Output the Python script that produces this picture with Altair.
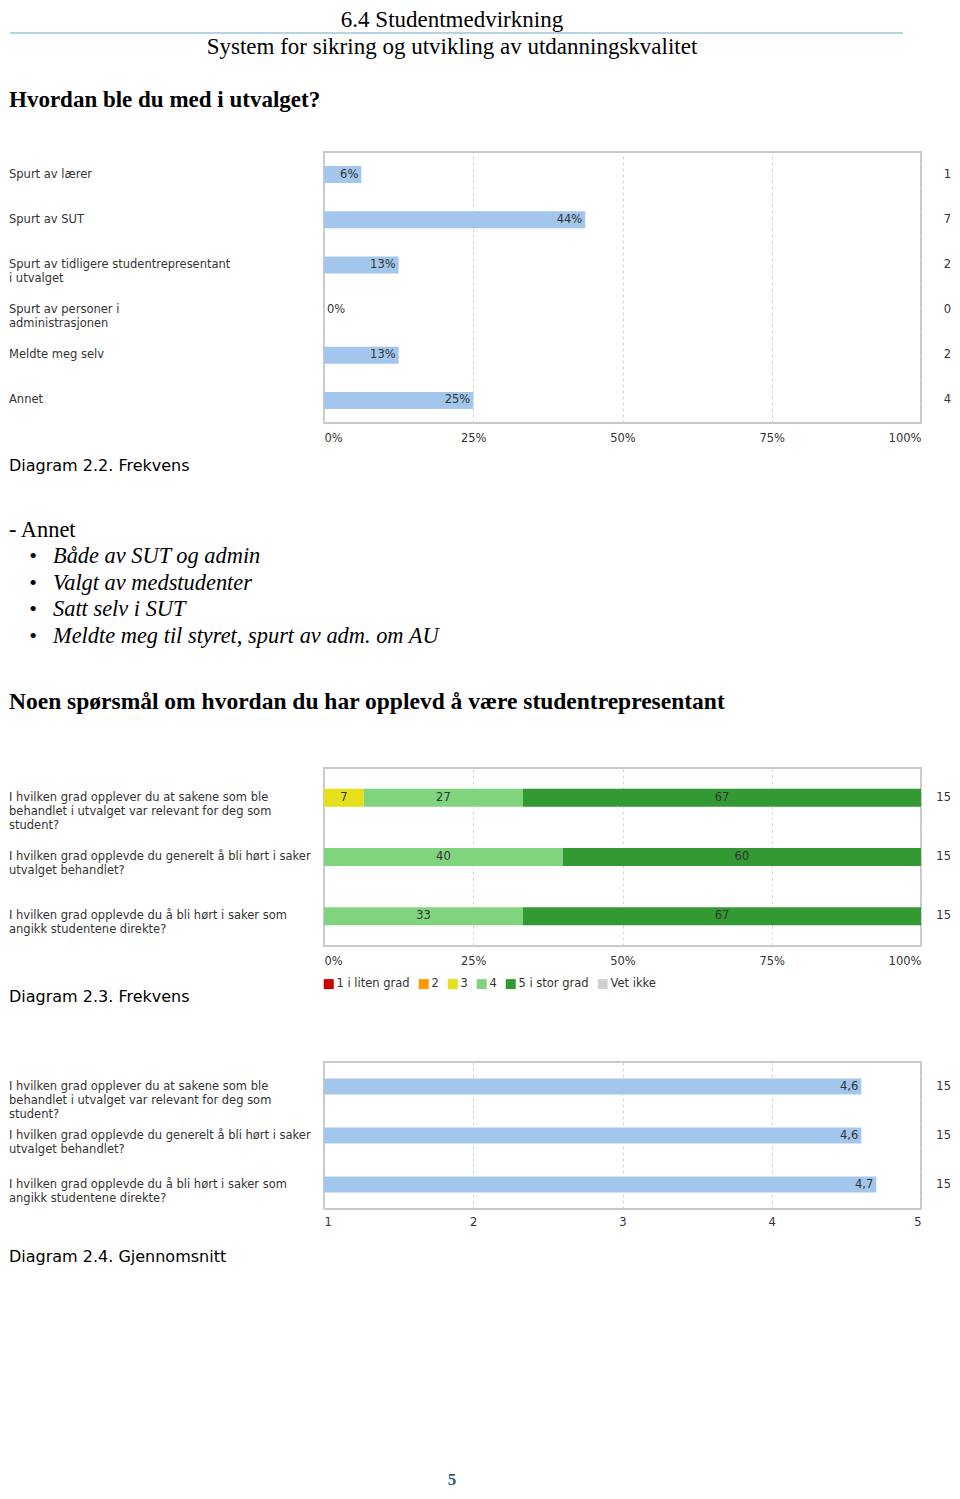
import altair as alt
import pandas as pd

SANS = "DejaVu Sans"
SERIF = "Liberation Serif"
W = 597
LEFT = -315
RIGHT_N = 627
BLUE = "#a3c7ec"
TXT = "#333333"

# ---- Chart 1 data: Hvordan ble du med i utvalget?
c1_cats = [
    "Spurt av lærer",
    "Spurt av SUT",
    "Spurt av tidligere studentrepresentant\ni utvalget",
    "Spurt av personer i\nadministrasjonen",
    "Meldte meg selv",
    "Annet",
]
c1_counts = [1, 7, 2, 0, 2, 4]

# ---- Chart 2 / 3 data
questions = [
    "I hvilken grad opplever du at sakene som ble\nbehandlet i utvalget var relevant for deg som\nstudent?",
    "I hvilken grad opplevde du generelt å bli hørt i saker\nutvalget behandlet?",
    "I hvilken grad opplevde du å bli hørt i saker som\nangikk studentene direkte?",
]
levels = ["1 i liten grad", "2", "3", "4", "5 i stor grad", "Vet ikke"]
level_colors = ["#cc0000", "#ff9900", "#e5e01a", "#80d47e", "#339933", "#d0d0d0"]
q1_counts = [0, 0, 1, 4, 10, 0]
q2_counts = [0, 0, 0, 6, 9, 0]
q3_counts = [0, 0, 0, 5, 10, 0]

means = [4.6, 4.6, 4.7]
mean_n = [15, 15, 15]

annet_items = [
    "Både av SUT og admin",
    "Valgt av medstudenter",
    "Satt selv i SUT",
    "Meldte meg til styret, spurt av adm. om AU",
]

ONE = alt.Data(values=[{}])


def txt(s, x, y, size, font=SANS, weight="normal", style="normal",
        align="left", baseline="middle", color="#000000"):
    return alt.Chart(ONE).mark_text(
        text=s, font=font, fontSize=size, fontWeight=weight, fontStyle=style,
        align=align, baseline=baseline, color=color,
    ).encode(x=alt.value(x), y=alt.value(y))


def xaxis(fmt, values, pad):
    return alt.Axis(format=fmt, values=values, labelFlush=True, ticks=False,
                    domain=False, labelPadding=pad, labelFont=SANS,
                    labelFontSize=11.5, labelColor=TXT, gridDash=[3, 3],
                    gridColor="#d5d5d5", title=None)


FRAME = alt.ViewBackground(stroke="#c8c8c8", strokeWidth=2, fill="white")

# ---- Section 0: header
rule0 = alt.Chart(ONE).mark_rule(color="#9ec5d6", strokeWidth=1.5).encode(
    x=alt.value(LEFT + 1), x2=alt.value(579), y=alt.value(25))
s0 = alt.layer(
    txt("6.4 Studentmedvirkning", 128, 18.5, 23, SERIF, align="center",
        baseline="alphabetic"),
    rule0,
    txt("System for sikring og utvikling av utdanningskvalitet", 128, 46, 23, SERIF,
        align="center", baseline="alphabetic"),
    txt("Hvordan ble du med i utvalget?", LEFT, 99, 23, SERIF, weight="bold",
        baseline="alphabetic"),
).properties(width=W, height=144)

# ---- Section 1: chart 1
df1 = pd.DataFrame({"cat": c1_cats, "n": c1_counts})
base1 = alt.Chart(df1).transform_joinaggregate(total="sum(n)").transform_calculate(
    pct="datum.n / datum.total")
y1 = alt.Y("cat:N", sort=c1_cats, axis=None,
           scale=alt.Scale(paddingInner=0, paddingOuter=0))
bars1 = base1.mark_bar(size=17, color=BLUE).encode(
    x=alt.X("pct:Q", scale=alt.Scale(domain=[0, 1]),
            axis=xaxis("%", [0, 0.25, 0.5, 0.75, 1], 9)),
    y=y1)
vals1 = base1.transform_filter("datum.n > 0").mark_text(
    align="right", dx=-3, font=SANS, fontSize=11.5, color=TXT).encode(
    x="pct:Q", y=y1, text=alt.Text("pct:Q", format=".0%"))
zero1 = base1.transform_filter("datum.n == 0").mark_text(
    align="left", dx=3, font=SANS, fontSize=11.5, color=TXT).encode(
    x="pct:Q", y=y1, text=alt.Text("pct:Q", format=".0%"))
lab1 = base1.mark_text(align="left", lineBreak="\n", lineHeight=14, font=SANS,
                       fontSize=11.5, color=TXT).encode(
    x=alt.value(LEFT), y=y1, text="cat:N")
cnt1 = base1.mark_text(align="right", font=SANS, fontSize=11.5, color=TXT).encode(
    x=alt.value(RIGHT_N), y=y1, text="n:Q")
s1 = alt.layer(bars1, vals1, zero1, lab1, cnt1).properties(
    width=W, height=271, view=FRAME)

# ---- Section 2: text block
s2_layers = [
    txt("Diagram 2.2. Frekvens", LEFT, 43, 16),
    txt("- Annet", LEFT, 107, 22.4, SERIF),
]
for i, item in enumerate(annet_items):
    yy = 133 + i * 26.7
    s2_layers.append(txt("•", -291, yy, 22, SERIF, align="center"))
    s2_layers.append(txt(item, -271, yy, 22.4, SERIF, style="italic"))
s2_layers.append(txt("Noen spørsmål om hvordan du har opplevd å være studentrepresentant",
                     LEFT, 279, 23.5, SERIF, weight="bold"))
s2 = alt.layer(*s2_layers).properties(width=W, height=345)

# ---- Section 3: chart 2 (stacked)
rows = []
for q, counts in zip(questions, [q1_counts, q2_counts, q3_counts]):
    for i, (lv, c) in enumerate(zip(levels, counts)):
        rows.append({"q": q, "level": lv, "order": i, "n": c})
df2 = pd.DataFrame(rows)
base2 = (
    alt.Chart(df2)
    .transform_joinaggregate(total="sum(n)", groupby=["q"])
    .transform_window(cum="sum(n)", groupby=["q"], sort=[alt.SortField("order")],
                      frame=[None, 0])
    .transform_calculate(
        start="(datum.cum - datum.n) / datum.total",
        end="datum.cum / datum.total",
        mid="(datum.cum - datum.n / 2) / datum.total",
        pct="100 * datum.n / datum.total",
    )
    .transform_filter("datum.n > 0")
)
y2 = alt.Y("q:N", sort=questions, axis=None,
           scale=alt.Scale(paddingInner=0, paddingOuter=0))
# legend is placed relative to the whole page (top-level) origin
bars2 = base2.mark_bar(size=18).encode(
    x=alt.X("start:Q", scale=alt.Scale(domain=[0, 1]),
            axis=xaxis("%", [0, 0.25, 0.5, 0.75, 1], 9)),
    x2="end:Q",
    y=y2,
    color=alt.Color("level:N", scale=alt.Scale(domain=levels, range=level_colors),
                    legend=alt.Legend(title=None, orient="none", legendX=-1,
                                      legendY=970, direction="horizontal",
                                      symbolType="square", symbolSize=100,
                                      symbolStrokeWidth=0, labelFont=SANS,
                                      labelFontSize=11.5, labelColor=TXT,
                                      labelOffset=2, columnPadding=8)),
)
vals2 = base2.mark_text(align="center", font=SANS, fontSize=11.5, color=TXT).encode(
    x="mid:Q", y=y2, text=alt.Text("pct:Q", format=".0f"))
agg2 = alt.Chart(df2).transform_aggregate(total="sum(n)", groupby=["q"])
lab2 = agg2.mark_text(align="left", lineBreak="\n", lineHeight=14, font=SANS,
                      fontSize=11.5, color=TXT).encode(
    x=alt.value(LEFT), y=y2, text="q:N")
cnt2 = agg2.mark_text(align="right", font=SANS, fontSize=11.5, color=TXT).encode(
    x=alt.value(RIGHT_N), y=y2, text="total:Q")
s3 = alt.layer(bars2, vals2, lab2, cnt2).properties(width=W, height=178, view=FRAME)

# ---- Section 4: caption
s4 = alt.layer(txt("Diagram 2.3. Frekvens", LEFT, 51, 16)).properties(width=W, height=116)

# ---- Section 5: chart 3 (means)
df3 = pd.DataFrame({"q": questions, "mean": means, "n": mean_n})
base3 = alt.Chart(df3).transform_calculate(
    base="1", lbl="replace(format(datum.mean, '.1f'), '.', ',')")
y3 = alt.Y("q:N", sort=questions, axis=None,
           scale=alt.Scale(paddingInner=0, paddingOuter=0))
bars3 = base3.mark_bar(size=16, color=BLUE).encode(
    x=alt.X("mean:Q", scale=alt.Scale(domain=[1, 5], zero=False),
            axis=xaxis("d", [1, 2, 3, 4, 5], 7)),
    x2="base:Q",
    y=y3)
vals3 = base3.mark_text(align="right", dx=-3, font=SANS, fontSize=11.5, color=TXT).encode(
    x="mean:Q", y=y3, text="lbl:N")
lab3 = base3.mark_text(align="left", lineBreak="\n", lineHeight=14, font=SANS,
                       fontSize=11.5, color=TXT).encode(
    x=alt.value(LEFT), y=y3, text="q:N")
cnt3 = base3.mark_text(align="right", font=SANS, fontSize=11.5, color=TXT).encode(
    x=alt.value(RIGHT_N), y=y3, text="n:Q")
s5 = alt.layer(bars3, vals3, lab3, cnt3).properties(width=W, height=147, view=FRAME)

# ---- Section 6: footer
s6 = alt.layer(
    txt("Diagram 2.4. Gjennomsnitt", LEFT, 48, 16),
    txt("5", 128, 271, 17, SERIF, weight="bold", align="center", color="#2e5c8a"),
).properties(width=W, height=200)

chart = (
    alt.vconcat(s0, s1, s2, s3, s4, s5, s6, spacing=0, bounds="flush")
    .properties(padding=0, background="white")
    .configure_view(stroke=None)
)

chart.save("out.html", embed_options={"renderer": "svg", "actions": False})
